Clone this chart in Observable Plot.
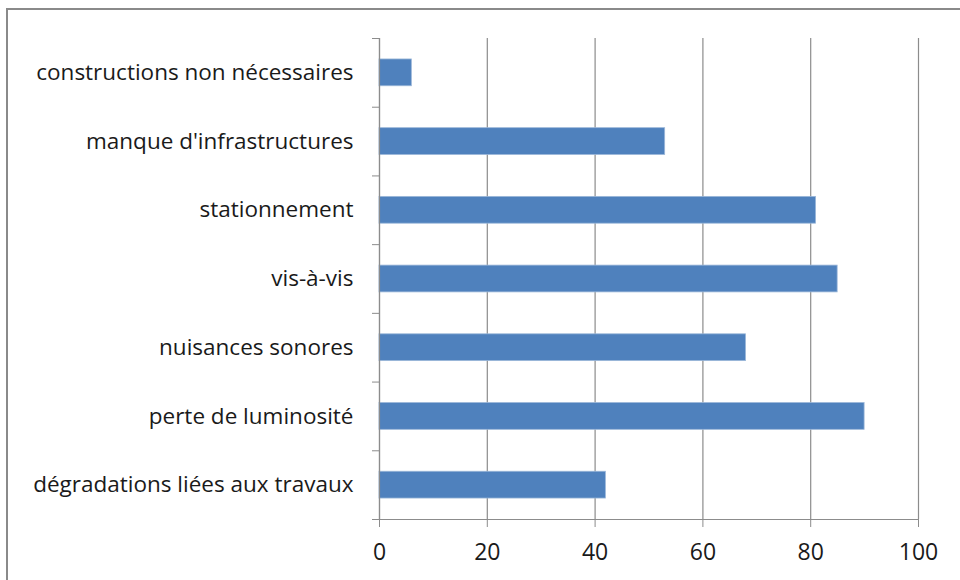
<!DOCTYPE html>
<html><head><meta charset="utf-8">
<script src="https://cdn.jsdelivr.net/npm/d3@7"></script>
<script src="https://cdn.jsdelivr.net/npm/@observablehq/plot@0.6"></script>
<style>
html,body{margin:0;padding:0;background:#fff;overflow:hidden;}
#frame{position:absolute;left:6px;top:8px;width:1000px;height:600px;border:2px solid #8a8a8a;box-sizing:border-box;}
#chart{position:absolute;left:0;top:0;}
</style></head>
<body>
<div id="frame"></div>
<div id="chart"></div>
<script>
const categories = [
  "constructions non nécessaires",
  "manque d'infrastructures",
  "stationnement",
  "vis-à-vis",
  "nuisances sonores",
  "perte de luminosité",
  "dégradations liées aux travaux"
];
const values = [6, 53, 81, 85, 68, 90, 42];
const xTicks = [0, 20, 40, 60, 80, 100];

const data = categories.map((c, i) => ({cat: c, idx: i, value: values[i]}));
const half = 0.195;

const chart = Plot.plot({
  width: 960,
  height: 580,
  marginLeft: 379,
  marginRight: 42,
  marginTop: 38,
  marginBottom: 61,
  style: {fontFamily: "'Open Sans', Lato, sans-serif", fontSize: "22px", color: "#1a1a1a", background: "transparent"},
  x: {domain: [0, 100], ticks: xTicks, label: null},
  y: {domain: [0, categories.length], reverse: true, label: null},
  marks: [
    Plot.gridX(xTicks, {stroke: "#8c8c8c", strokeOpacity: 1, strokeWidth: 1.2}),
    Plot.rectX(data, {x1: 0, x2: "value", y1: d => d.idx + 0.5 - half, y2: d => d.idx + 0.5 + half, fill: "#4F81BD", stroke: "#9bb7d9", strokeWidth: 0.8}),
    Plot.ruleX([0], {stroke: "#8c8c8c", strokeWidth: 1.2}),
    Plot.ruleY([categories.length], {stroke: "#8c8c8c", strokeWidth: 1.2}),
    Plot.axisX({ticks: xTicks, tickSize: 8, tickPadding: 16, stroke: "#8c8c8c", fontSize: 23, fill: "#1a1a1a", label: null}),
    Plot.axisY({ticks: d3.range(categories.length + 1), tickSize: 7, tickFormat: () => "", stroke: "#8c8c8c", label: null}),
    Plot.axisY({ticks: d3.range(categories.length).map(i => i + 0.5), tickSize: 0, tickPadding: 26, tickFormat: v => categories[Math.floor(v)], fontSize: 22.5, fill: "#1a1a1a", label: null, style: {letterSpacing: "0.65px"}})
  ]
});
document.getElementById("chart").appendChild(chart);
</script>
</body></html>
